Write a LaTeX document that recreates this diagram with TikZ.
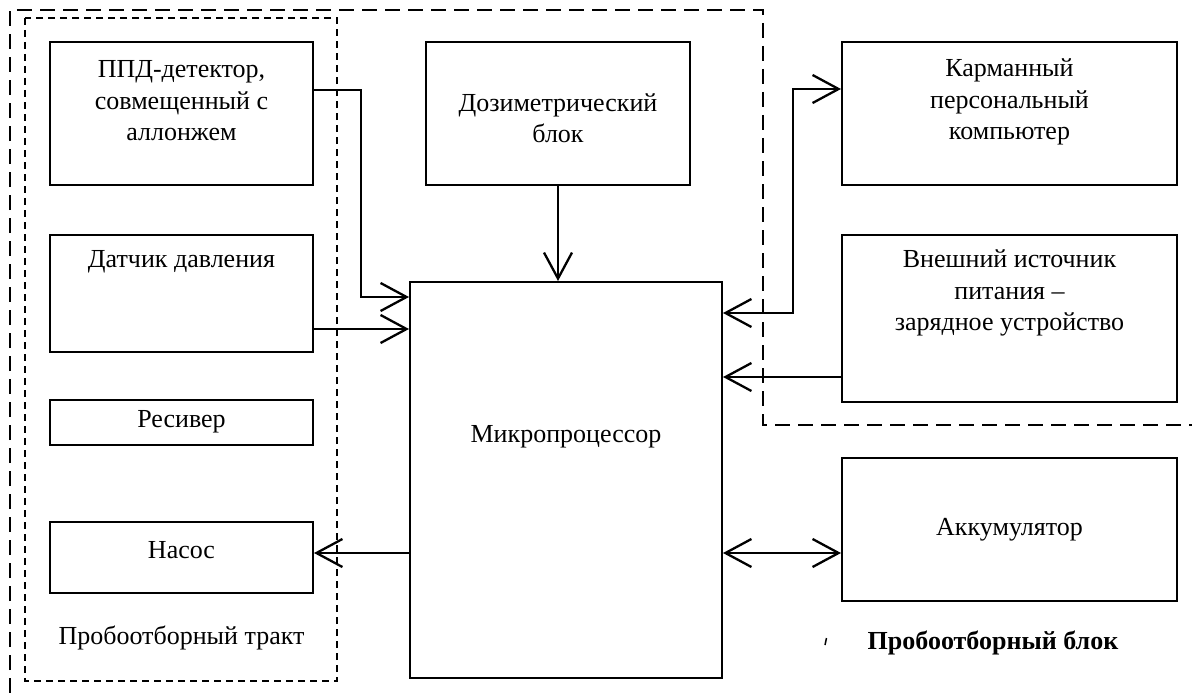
\documentclass[tikz,border=0pt]{standalone}
\usepackage{fontspec}
\setmainfont{Liberation Serif}
\usetikzlibrary{arrows.meta}
\begin{document}
\begin{tikzpicture}[x=1pt,y=-1pt,
  box/.style={draw, line width=2pt, inner sep=0pt},
  txt/.style={font=\fontsize{26}{31.5}\selectfont, align=center, inner sep=0pt},
  arr/.style={line width=2.3pt, -{Straight Barb[length=26pt,width=28pt,line width=2.3pt]}},
  darr/.style={line width=2.3pt, {Straight Barb[length=26pt,width=28pt,line width=2.3pt]}-{Straight Barb[length=26pt,width=28pt,line width=2.3pt]}},
  longdash/.style={line width=1.8pt, dash pattern=on 15pt off 8pt},
  shortdash/.style={line width=1.8pt, dash pattern=on 7pt off 5pt}]
\useasboundingbox (0,0) rectangle (1192,693);

% dashed boundaries
\draw[longdash] (10,693) -- (10,10) -- (763,10) -- (763,425) -- (1192,425);
\draw[shortdash] (25,18) rectangle (337,681);

% boxes
\node[box, minimum width=263pt, minimum height=143pt] (ppd) at (181.5,113.5) {};
\node[box, minimum width=263pt, minimum height=117pt] (dat) at (181.5,293.5) {};
\node[box, minimum width=263pt, minimum height=45pt] (res) at (181.5,422.5) {};
\node[box, minimum width=263pt, minimum height=71pt] (nas) at (181.5,557.5) {};
\node[box, minimum width=264pt, minimum height=143pt] (doz) at (558,113.5) {};
\node[box, minimum width=312pt, minimum height=396pt] (mp) at (566,480) {};
\node[box, minimum width=335pt, minimum height=143pt] (kpk) at (1009.5,113.5) {};
\node[box, minimum width=335pt, minimum height=167pt] (ext) at (1009.5,318.5) {};
\node[box, minimum width=335pt, minimum height=143pt] (akk) at (1009.5,529.5) {};

% texts
\node[txt] (tppd) at (181.5,101) {ППД-детектор,\\совмещенный с\\аллонжем};
\node[txt] (tdat) at (181.5,262) {Датчик давления};
\node[txt] (tres) at (181.5,422) {Ресивер};
\node[txt] (tnas) at (181.5,550) {Насос};
\node[txt] (ttr) at (181.5,638) {Пробоотборный тракт};
\node[txt] (tdoz) at (558,118) {Дозиметрический\\блок};
\node[txt] (tkpk) at (1009.5,102) {Карманный\\персональный\\компьютер};
\node[txt] (text) at (1009.5,293) {Внешний источник\\питания –\\зарядное устройство};
\node[txt] (takk) at (1009.5,530) {Аккумулятор};
\node[txt] (tmp) at (566,437) {Микропроцессор};
\node[txt, font=\fontsize{26}{31.5}\selectfont\bfseries] (tblk) at (993,643) {Пробоотборный блок};
\draw[line width=1.5pt] (826.5,638) -- (825,645);

% helper coordinates
\coordinate (c90) at (0,90);
\coordinate (j1) at (361,297);
\coordinate (c329) at (0,329);
\coordinate (c313) at (0,313);
\coordinate (j2) at (793,89);
\coordinate (c377) at (0,377);
\coordinate (c553) at (0,553);

% connectors
\draw[arr] (ppd.east |- c90) -| (j1) -- (mp.west |- j1);
\draw[arr] (dat.east |- c329) -- (mp.west |- c329);
\draw[arr] (doz.south) -- (doz.south |- mp.north);
\draw[darr] (mp.east |- c313) -| (j2) -- (kpk.west |- j2);
\draw[arr] (ext.west |- c377) -- (mp.east |- c377);
\draw[darr] (mp.east |- c553) -- (akk.west |- c553);
\draw[arr] (mp.west |- c553) -- (nas.east |- c553);
\end{tikzpicture}
\end{document}
